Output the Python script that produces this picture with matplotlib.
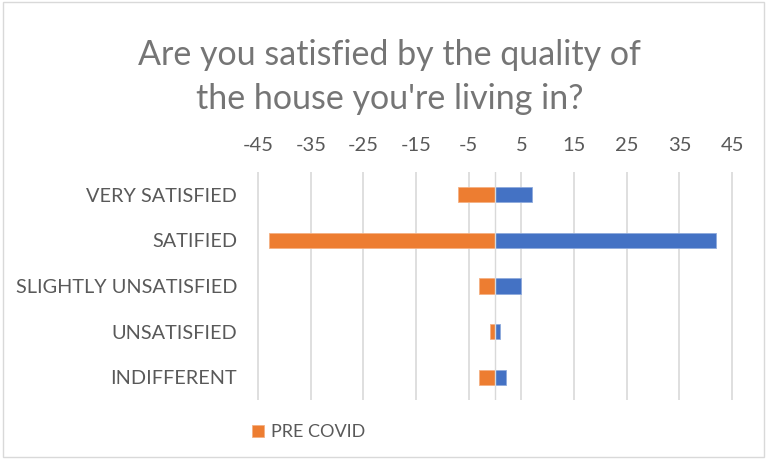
import numpy as np
import matplotlib.pyplot as plt
from matplotlib.patches import Rectangle

plt.rcParams['font.family'] = ['Lato', 'DejaVu Sans']

categories = ['VERY SATISFIED', 'SATIFIED', 'SLIGHTLY UNSATISFIED', 'UNSATISFIED', 'INDIFFERENT']
pre_covid = [-7, -43, -3, -1, -3]
post_covid = [7, 42, 5, 1, 2]
ticks = [-45, -35, -25, -15, -5, 5, 15, 25, 35, 45]

text_col = '#595959'
fig = plt.figure(figsize=(7.67, 4.59), dpi=100)
fig.patches.append(Rectangle((0.004, 0.004), 0.992, 0.992, transform=fig.transFigure,
                             fill=False, edgecolor='#d9d9d9', linewidth=1.0))

ax = fig.add_axes([0.3345, 0.1285, 0.622, 0.4968])
y = np.arange(len(categories))
ax.barh(y, post_covid, height=0.33, color='#4472C4', edgecolor='#8faadc', linewidth=0.6, zorder=3)
ax.barh(y, pre_covid, height=0.33, color='#ED7D31', edgecolor='#f4b183', linewidth=0.6,
        zorder=3, label='PRE COVID')
ax.axvline(0, color='#d9d9d9', linewidth=1.0, zorder=4)

ax.set_xlim(-45.3, 45.3)
ax.set_ylim(len(categories) - 0.5, -0.5)
ax.set_yticks(y)
ax.set_yticklabels(categories, fontsize=14.3, color=text_col)
ax.set_xticks(ticks)
ax.set_xticklabels([str(t) for t in ticks], fontsize=14.5, color=text_col)
ax.xaxis.tick_top()
ax.tick_params(axis='both', length=0)
ax.tick_params(axis='x', pad=13)
ax.tick_params(axis='y', pad=14)
ax.grid(axis='x', color='#d9d9d9', linewidth=1.2, zorder=0)
for s in ax.spines.values():
    s.set_visible(False)

fig.text(0.508, 0.832, "Are you satisfied by the quality of\nthe house you're living in?",
         ha='center', va='center', fontsize=24.5, color='#757575', linespacing=1.45)

fig.legend(loc='center', bbox_to_anchor=(0.402, 0.058), frameon=False, fontsize=13,
           handlelength=0.7, handleheight=0.7, handletextpad=0.35, labelcolor=text_col)

plt.savefig('out.png', dpi=100)
